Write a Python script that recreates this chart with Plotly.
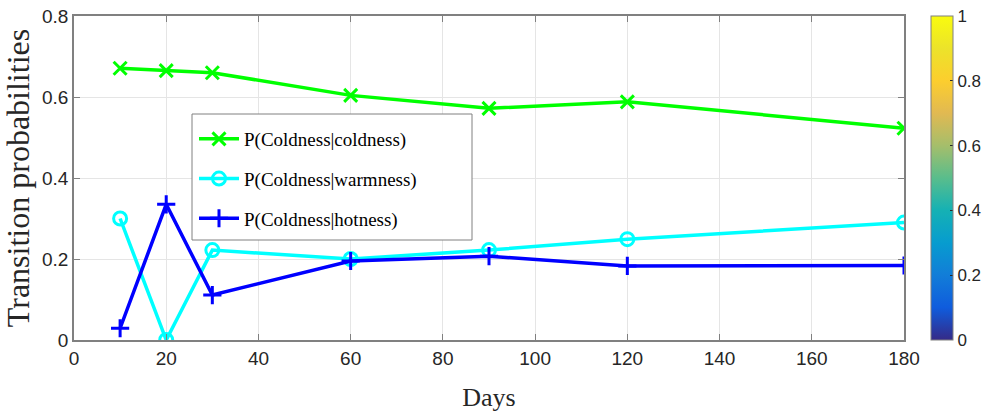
import plotly.graph_objects as go

days = [10, 20, 30, 60, 90, 120, 180]
p_cold_cold = [0.671, 0.665, 0.660, 0.604, 0.572, 0.588, 0.523]
p_cold_warm = [0.300, 0.000, 0.222, 0.200, 0.222, 0.249, 0.290]
p_cold_hot = [0.029, 0.335, 0.111, 0.195, 0.207, 0.183, 0.184]

series_names = ["P(Coldness|coldness)", "P(Coldness|warmness)", "P(Coldness|hotness)"]
series_colors = ["#00ff00", "#00ffff", "#0000ff"]
series_symbols = ["x-thin-open", "circle-open", "cross-thin-open"]

x_ticks = [0, 20, 40, 60, 80, 100, 120, 140, 160, 180]
y_ticks = [0, 0.2, 0.4, 0.6, 0.8]
y_tick_labels = ["0", "0.2", "0.4", "0.6", "0.8"]
cbar_ticks = [0, 0.2, 0.4, 0.6, 0.8, 1]
cbar_tick_labels = ["0", "0.2", "0.4", "0.6", "0.8", "1"]

parula = [
    [0.0, "rgb(53,42,135)"],
    [0.1, "rgb(15,92,221)"],
    [0.2, "rgb(18,125,216)"],
    [0.3, "rgb(7,156,207)"],
    [0.4, "rgb(21,177,180)"],
    [0.5, "rgb(89,189,140)"],
    [0.6, "rgb(165,190,107)"],
    [0.7, "rgb(225,185,82)"],
    [0.8, "rgb(252,206,46)"],
    [0.9, "rgb(236,227,42)"],
    [1.0, "rgb(249,251,14)"],
]

AX = "#808080"
TXT = "#262626"
TICKFONT = dict(family="Arial, Liberation Sans, sans-serif", size=19, color=TXT)
CBFONT = dict(family="Arial, Liberation Sans, sans-serif", size=17, color=TXT)
SERIF = "Times New Roman, Liberation Serif, serif"

W, H = 987, 414
ML, MT, MR, MB = 74, 16, 83, 74
PW, PH = W - ML - MR, H - MT - MB  # 830 x 324

fig = go.Figure()
for name, ys, col, sym in zip(series_names, [p_cold_cold, p_cold_warm, p_cold_hot],
                              series_colors, series_symbols):
    fig.add_trace(go.Scatter(
        x=days, y=ys, name=name, mode="lines+markers", legendgroup=name,
        line=dict(color=col, width=3.5),
        marker=dict(symbol=sym, size=13, color=col, line=dict(color=col, width=3)),
    ))

# colorbar (parula, MATLAB default)
fig.add_trace(go.Scatter(
    x=[None, None], y=[None, None], mode="markers", showlegend=False, hoverinfo="skip",
    marker=dict(color=[0, 1], cmin=0, cmax=1, colorscale=parula, showscale=True,
                colorbar=dict(
                    x=1 + 27 / PW, xanchor="left", xref="paper",
                    y=0.5, yanchor="middle", len=1.0, lenmode="fraction",
                    thickness=22, thicknessmode="pixels",
                    outlinecolor=AX, outlinewidth=1,
                    tickvals=cbar_ticks, ticktext=cbar_tick_labels,
                    ticks="inside", ticklen=3, tickcolor=TXT,
                    tickfont=CBFONT, xpad=0, ypad=0,
                )),
))

# legend box (MATLAB-style, wider than the entries)
lx0, lx1 = (192 - ML) / PW, (472 - ML) / PW
ly1, ly0 = 1 - (114 - MT) / PH, 1 - (240 - MT) / PH
fig.add_shape(type="rect", xref="paper", yref="paper", x0=lx0, x1=lx1, y0=ly0, y1=ly1,
              fillcolor="white", line=dict(color=AX, width=1), layer="above")

fig.update_layout(
    width=W, height=H,
    margin=dict(l=ML, r=MR, t=MT, b=MB, autoexpand=False),
    paper_bgcolor="white", plot_bgcolor="white",
    showlegend=True,
    legend=dict(
        x=lx0 + 2 / PW, y=ly1 - 6 / PH, xanchor="left", yanchor="top",
        bgcolor="rgba(0,0,0,0)", borderwidth=0,
        font=dict(family=SERIF, size=19, color="black"),
        tracegroupgap=12, itemwidth=40,
    ),
    xaxis=dict(
        range=[0, 180], tickvals=x_ticks, showgrid=True, gridcolor="#e5e5e5", gridwidth=1,
        zeroline=False, showline=True, linecolor=AX, linewidth=1.5, mirror="ticks",
        ticks="inside", ticklen=6, tickcolor=AX, tickfont=TICKFONT,
        title=dict(text="Days", font=dict(family=SERIF, size=26, color=TXT), standoff=20),
    ),
    yaxis=dict(
        range=[0, 0.8], tickvals=y_ticks, ticktext=y_tick_labels,
        showgrid=True, gridcolor="#e5e5e5", gridwidth=1,
        zeroline=False, showline=True, linecolor=AX, linewidth=1.5, mirror="ticks",
        ticks="inside", ticklen=6, tickcolor=AX, tickfont=TICKFONT,
        title=dict(text="Transition probabilities", font=dict(family=SERIF, size=32, color=TXT), standoff=3),
    ),
)

# remove the browser's default 8px body margin so the figure fills the window exactly
fig.write_html("out.html", config={"displayModeBar": False},
               post_script="document.body.style.margin='0px';")
